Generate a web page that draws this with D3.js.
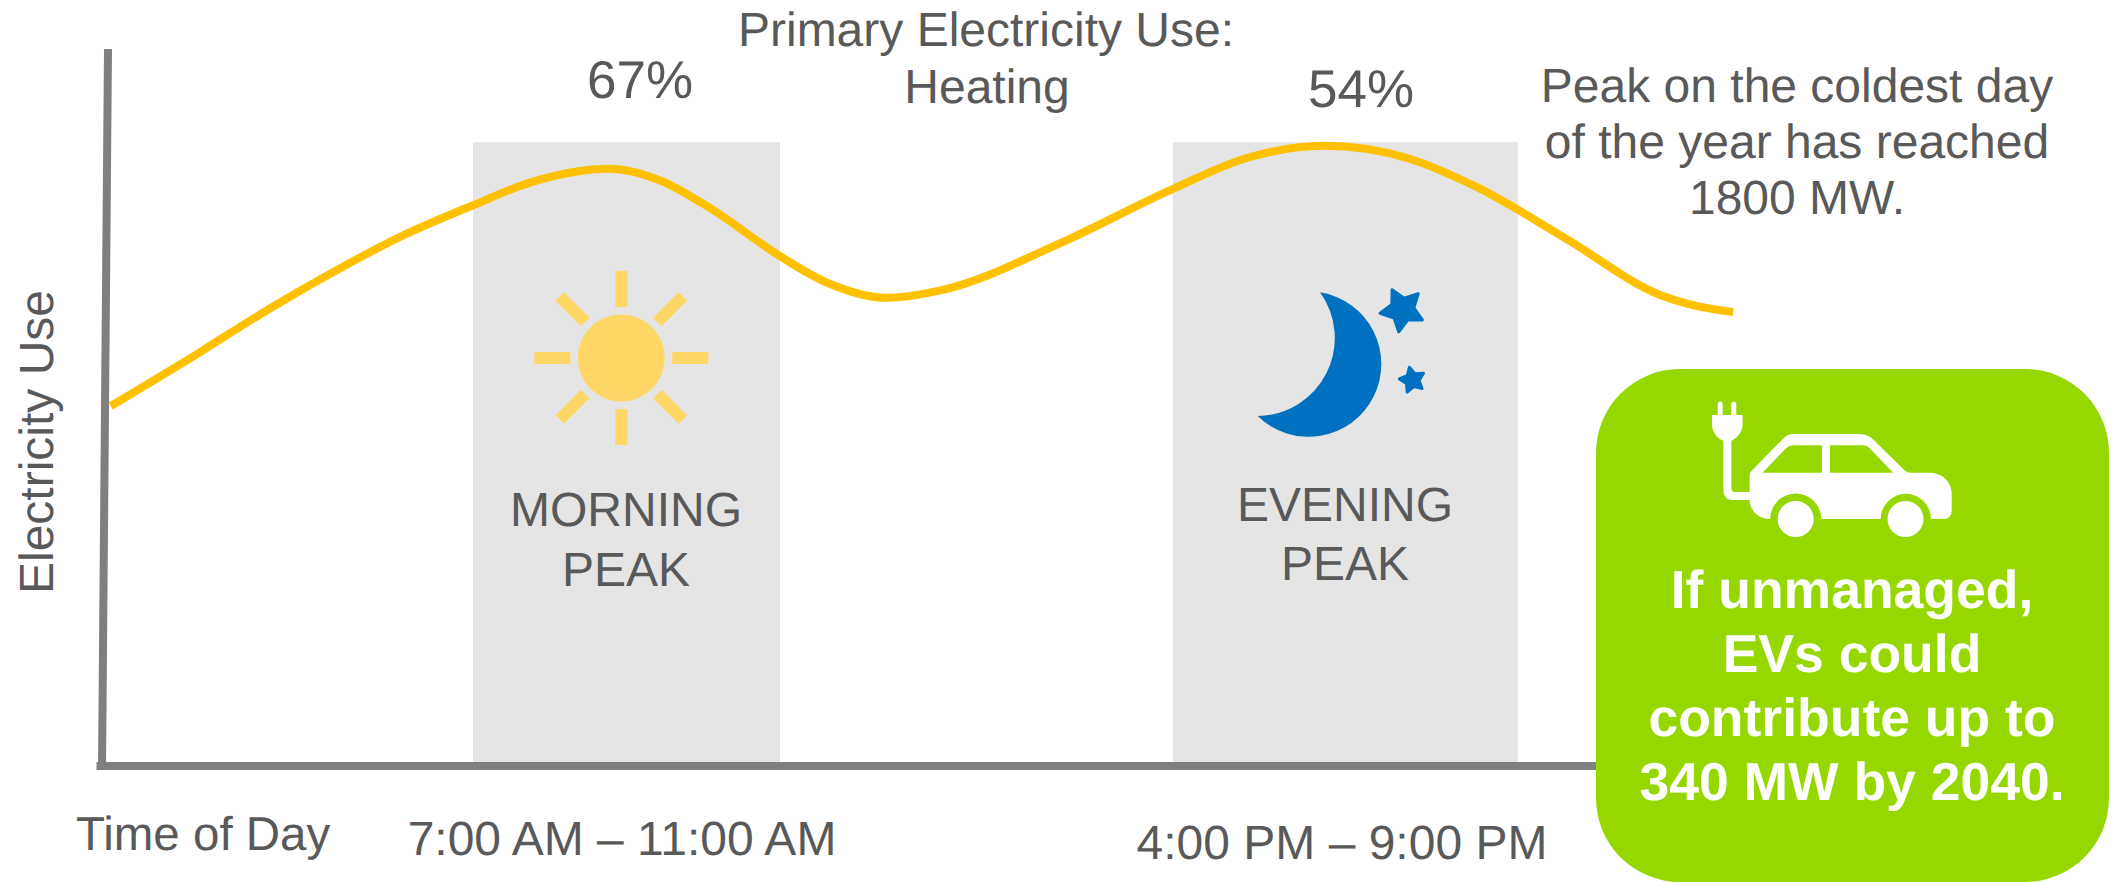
<!DOCTYPE html>
<html>
<head>
<meta charset="utf-8">
<title>Electricity use by time of day</title>
<script src="https://cdn.jsdelivr.net/npm/d3@7"></script>
<style>
  html, body { margin: 0; padding: 0; background: #fff; overflow: hidden; }
  text { font-family: "Liberation Sans", Arial, sans-serif; fill: #595959; text-rendering: geometricPrecision; }
</style>
</head>
<body>
<div id="container"></div>
<script>
/* CONSTANTS AND GLOBALS */
const width = 2128,
  height = 882

/* DATA. hour of day / relative electricity use */
const curveHours = [2.28, 3.44, 4.32, 5.18, 6.05, 7, 7.78, 8.78, 9.43, 10.09, 11, 11.6, 12.36, 13.07, 14.56, 16, 17.07, 18.2, 19.39, 20.39, 21.72, 23.06, 23.52, 24.12]
const curveUse = [50.2, 57.7, 63.6, 68.9, 73.8, 78.2, 81.5, 83.3, 81.7, 77.8, 71.1, 67.4, 65.3, 66.4, 72.9, 80.5, 84.8, 86.5, 84.8, 80.8, 73.4, 65.7, 64.3, 63.3]

const peakStart = [7, 16]
const peakEnd = [11, 21]
const peakTop = 87

// the axis isn't linear in the original, so the hours scale has a stop at each band edge
const xTicks = [7, 11, 16, 21]
const xStops = [473, 780, 1173, 1518]

const curveData = curveHours.map((h, i) => ({ h: h, v: curveUse[i] }))

const svg = d3.select("#container")
  .append("svg")
  .attr("width", width)
  .attr("height", height)
  .style("display", "block")

const xScale = d3.scaleLinear().domain(xTicks).range(xStops)
const yScale = d3.scaleLinear().domain([0, 100]).range([766, 49])

// PEAK BANDS
svg.selectAll(".band")
  .data(peakStart)
  .join("rect")
  .attr("class", "band")
  .attr("x", d => xScale(d))
  .attr("y", yScale(peakTop))
  .attr("width", (d, i) => xScale(peakEnd[i]) - xScale(d))
  .attr("height", yScale(0) - yScale(peakTop))
  .attr("fill", "#e5e5e5")

// AXES
svg.append("line")
  .attr("x1", 108).attr("y1", 49)
  .attr("x2", 102).attr("y2", 770)
  .attr("stroke", "#7f7f7f")
  .attr("stroke-width", 8)

svg.append("line")
  .attr("x1", 96.5).attr("y1", yScale(0))
  .attr("x2", 1610).attr("y2", yScale(0))
  .attr("stroke", "#7f7f7f")
  .attr("stroke-width", 8)

// USE CURVE
const lineGen = d3.line()
  .x(d => xScale(d.h))
  .y(d => yScale(d.v))
  .curve(d3.curveMonotoneX)

svg.append("path")
  .attr("d", lineGen(curveData))
  .attr("fill", "none")
  .attr("stroke", "#ffc000")
  .attr("stroke-width", 8)

// SUN
const sun = svg.append("g")
  .attr("transform", "translate(621.3,358)")
  .attr("fill", "#ffd766")

sun.append("circle").attr("r", 43.5)

sun.selectAll("rect")
  .data(d3.range(8))
  .join("rect")
  .attr("x", -6)
  .attr("y", -87)
  .attr("width", 12)
  .attr("height", 36)
  .attr("transform", d => `rotate(${d * 45})`)

// MOON + STARS
svg.append("path")
  .attr("d", "M1320,292.3 A72.7,72.7 0 1 1 1257.7,416 A78,78 0 0 0 1320,292.3 Z")
  .attr("fill", "#0070c0")

const starLine = d3.lineRadial().curve(d3.curveLinearClosed)
function starPoints(r) {
  return d3.range(10).map(i => [i * Math.PI / 5, i % 2 ? r * 0.52 : r])
}

svg.selectAll(".star")
  .data([
    { x: 1402.3, y: 309.7, r: 22.5, rot: -27 },
    { x: 1412.3, y: 380, r: 13, rot: -13 }
  ])
  .join("path")
  .attr("class", "star")
  .attr("d", d => starLine(starPoints(d.r)))
  .attr("transform", d => `translate(${d.x},${d.y}) rotate(${d.rot})`)
  .attr("fill", "#0070c0")
  .attr("stroke", "#0070c0")
  .attr("stroke-width", 3)
  .attr("stroke-linejoin", "round")

// LABELS
const labels = svg.append("g").attr("text-anchor", "middle")

function addLabel(txt, x, y, size) {
  labels.append("text")
    .text(txt)
    .attr("x", x)
    .attr("y", y)
    .attr("font-size", size)
}

addLabel("Primary Electricity Use:", 986, 46, 48)
addLabel("Heating", 987, 103, 48)
addLabel("67%", 640, 98, 53)
addLabel("54%", 1361, 107, 53)
addLabel("Peak on the coldest day", 1797, 102, 48)
addLabel("of the year has reached", 1797, 158, 48)
addLabel("1800 MW.", 1797, 214, 48)
addLabel("MORNING", 626, 526, 48)
addLabel("PEAK", 626, 586, 48)
addLabel("EVENING", 1345, 521, 48)
addLabel("PEAK", 1345, 580, 48)
addLabel("7:00 AM – 11:00 AM", 622, 855, 48)
addLabel("4:00 PM – 9:00 PM", 1342, 859, 48)

labels.append("text")
  .text("Time of Day")
  .attr("x", 76)
  .attr("y", 850)
  .attr("font-size", 47.5)
  .attr("text-anchor", "start")

labels.append("text")
  .text("Electricity Use")
  .attr("transform", "translate(53,442) rotate(-90)")
  .attr("font-size", 48)

// GREEN CALLOUT
svg.append("rect")
  .attr("x", 1596)
  .attr("y", 369)
  .attr("width", 513)
  .attr("height", 513)
  .attr("rx", 84)
  .attr("fill", "#97d700")

// plug and cord
const car = svg.append("g").attr("fill", "#fff")

car.append("path")
  .attr("d", "M1717.7,415 V404 a2.5,2.5 0 0 1 5,0 V415 H1731.3 V404 a2.5,2.5 0 0 1 5,0 V415 H1742.6 V424 C1742.6,432 1737,438.5 1731.4,440.7 V488 Q1731.4,492 1735,492 H1750 V500 H1733 Q1723.4,500 1723.4,490 V440.7 C1717,438.5 1712,432 1712,424 V415 Z")

// body, windows cut with evenodd
car.append("path")
  .attr("fill-rule", "evenodd")
  .attr("d", "M1793.3,434 H1859.7 Q1868,434 1873.7,440 L1903.4,469.3 Q1906.5,472.7 1910.4,472.7 H1929.7 C1942,472.7 1951.7,482 1951.7,493.3 V510 Q1951.7,519 1943.6,519 H1931 A25,25 0 0 0 1880.7,519 H1821.3 A25.5,25.5 0 0 0 1770.2,519 C1758,519 1749.6,510 1749.6,500 V476.7 Q1749.6,472 1752.4,470 L1782.8,439 Q1787,434 1793.3,434 Z M1762.5,472.7 L1786.3,448 Q1789,445.3 1793.3,445.3 H1822 V472.7 Z M1830,472.7 V445.3 H1863.2 Q1867,445.3 1869.5,448 L1893,472.7 Z")

car.selectAll("circle")
  .data([1795.7, 1905.5])
  .join("circle")
  .attr("cx", d => d)
  .attr("cy", 519)
  .attr("r", 18)

const calloutLines = ["If unmanaged,", "EVs could", "contribute up to", "340 MW by 2040."]

svg.selectAll(".callout")
  .data(calloutLines)
  .join("text")
  .attr("class", "callout")
  .text(d => d)
  .attr("x", 1852)
  .attr("y", (d, i) => 608 + i * 64)
  .attr("text-anchor", "middle")
  .attr("font-size", 53.5)
  .attr("font-weight", "bold")
  .style("fill", "#fff")
</script>
</body>
</html>
